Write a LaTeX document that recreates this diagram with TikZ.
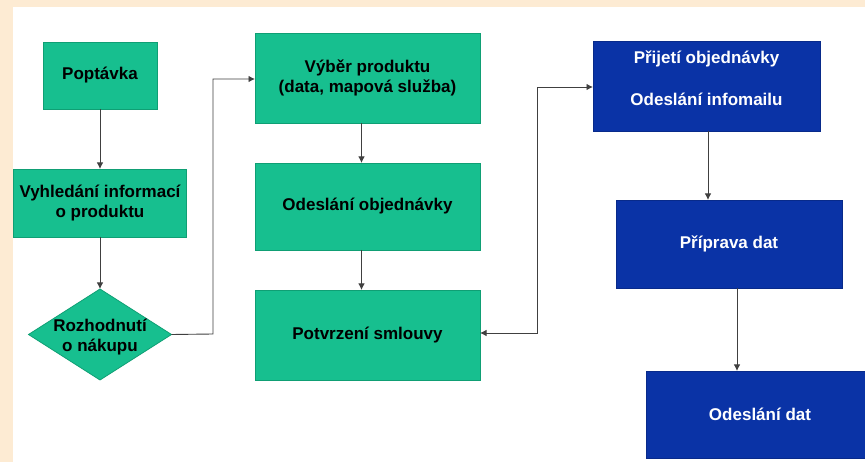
\documentclass[tikz,border=0pt]{standalone}
\usepackage{fontspec}
\setmainfont{Liberation Sans}
\usetikzlibrary{arrows.meta,shapes.geometric}
\definecolor{peach}{HTML}{FDEBD3}
\definecolor{boxgreen}{HTML}{17BF8F}
\definecolor{greenedge}{HTML}{0F9F74}
\definecolor{navy}{HTML}{0A33A6}
\definecolor{navyedge}{HTML}{082A8A}
\definecolor{conn}{HTML}{404040}
\tikzset{
  boxfont/.style={font=\fontsize{17}{20}\selectfont\bfseries},
  gbox/.style={rectangle, fill=boxgreen, draw=greenedge, line width=0.8pt, inner sep=0pt, outer sep=0pt, align=center, boxfont, text=black},
  bbox/.style={rectangle, fill=navy, draw=navyedge, line width=0.8pt, inner sep=0pt, outer sep=0pt, align=center, boxfont, text=white},
  gdia/.style={diamond, fill=boxgreen, draw=greenedge, line width=0.8pt, inner sep=0pt, outer sep=0pt, minimum width=143pt, minimum height=91pt},
  dtext/.style={align=center, inner sep=0pt, boxfont},
  tip/.tip={Latex[length=6.5pt,width=6.5pt]},
  conline/.style={draw=conn, line width=0.9pt, -tip},
  biline/.style={draw=conn, line width=0.9pt, tip-tip}
}
\begin{document}
\begin{tikzpicture}[x=1pt,y=-1pt]
\useasboundingbox (0,0) rectangle (865,462);
\fill[peach] (0,0) rectangle (865,462);
\fill[white] (13,7) rectangle (865,462);

\node[gbox, minimum width=114pt, minimum height=67pt] (poptavka) at (100,75.5) {Poptávka};
\node[gbox, minimum width=173pt, minimum height=68pt] (vyhledani) at (100,203) {Vyhledání informací\\o produktu};
\node[gdia] (dec) at (100,334.5) {};
\node[dtext, text=black] (dectext) at (100,337) {Rozhodnutí\\o nákupu};

\node[gbox, minimum width=225pt, minimum height=90pt] (vyber) at (367.5,78) {Výběr produktu\\(data, mapová služba)};
\node[gbox, minimum width=225pt, minimum height=87pt] (odeslani) at (367.5,206.5) {Odeslání objednávky};
\node[gbox, minimum width=225pt, minimum height=90pt] (potvrzeni) at (367.5,335) {Potvrzení smlouvy};

\node[bbox, minimum width=227pt, minimum height=90pt] (prijeti) at (706.5,86) {};
\node[dtext, text=white] (prijetitext) at (706.5,78) {Přijetí objednávky\\[22pt]Odeslání infomailu};
\node[bbox, minimum width=226pt, minimum height=88pt] (priprava) at (729,244) {Příprava dat};
\node[bbox, minimum width=228pt, minimum height=87pt] (odeslanidat) at (760,414.5) {Odeslání dat};

\coordinate (c1) at (213,334);
\coordinate (c2) at (213,79);
\coordinate (c3) at (537,333);
\coordinate (c4) at (537,87);

\draw[conline] (poptavka.south) -- (vyhledani.north);
\draw[conline] (vyhledani.south) -- (dec.north);
\draw[conline] (dec.east) -- (c1) -- (c2) -- (c2 -| vyber.west);
\draw[conline] ([xshift=-6pt]vyber.south) -- ([xshift=-6pt]odeslani.north);
\draw[conline] ([xshift=-6pt]odeslani.south) -- ([xshift=-6pt]potvrzeni.north);
\draw[biline] (c3 -| potvrzeni.east) -- (c3) -- (c4) -- (c4 -| prijeti.west);
\draw[conline] ([xshift=1.5pt]prijeti.south) -- ([xshift=1.5pt]prijeti.south |- priprava.north);
\draw[conline] ([xshift=8pt]priprava.south) -- ([xshift=8pt]priprava.south |- odeslanidat.north);
\end{tikzpicture}
\end{document}
